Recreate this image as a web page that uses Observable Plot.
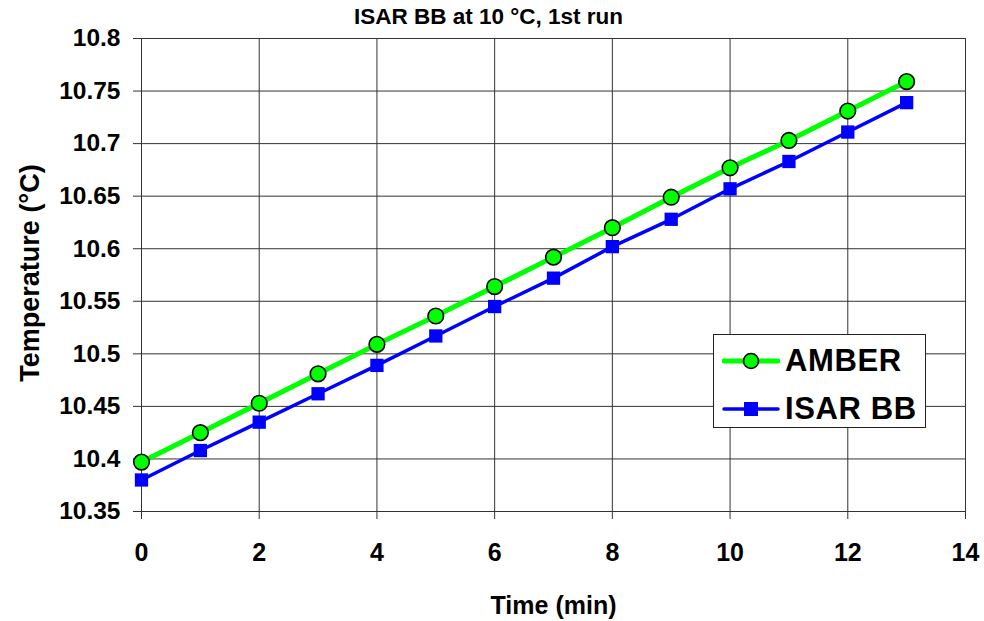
<!DOCTYPE html>
<html>
<head>
<meta charset="utf-8">
<script src="https://cdn.jsdelivr.net/npm/d3@7"></script>
<script src="https://cdn.jsdelivr.net/npm/@observablehq/plot@0.6"></script>
<style>
  html, body { margin: 0; padding: 0; background: #fff; }
  #wrap { position: relative; width: 984px; height: 621px; font-family: 'Liberation Sans', Arial, sans-serif; }
  #legend { position: absolute; left: 713px; top: 334px; width: 211px; height: 92px; border: 1.5px solid #222; background: #fff; }
  .row { position: absolute; left: 8px; height: 40px; display: flex; align-items: center; font-weight: bold; font-size: 31px; letter-spacing: 0.6px; }
  .row svg { margin-right: 5px; }
</style>
</head>
<body>
<div id="wrap"></div>
<script>
const times = [0, 1, 2, 3, 4, 5, 6, 7, 8, 9, 10, 11, 12, 13];
const amber = [10.397, 10.425, 10.453, 10.481, 10.509, 10.536, 10.564, 10.592, 10.620, 10.649, 10.677, 10.703, 10.731, 10.759];
const isarBB = [10.380, 10.408, 10.435, 10.462, 10.489, 10.517, 10.545, 10.572, 10.602, 10.628, 10.657, 10.683, 10.711, 10.739];
const xTicks = [0, 2, 4, 6, 8, 10, 12, 14];
const yTicks = [10.35, 10.4, 10.45, 10.5, 10.55, 10.6, 10.65, 10.7, 10.75, 10.8];
const yTickLabels = ["10.35", "10.4", "10.45", "10.5", "10.55", "10.6", "10.65", "10.7", "10.75", "10.8"];
const seriesNames = ["AMBER", "ISAR BB"];
const seriesColors = ["#00ff00", "#0000ff"];
const title = "ISAR BB at 10 °C, 1st run";
const xLabel = "Time (min)";
const yLabel = "Temperature (°C)";

const amberData = times.map((t, i) => ({t, v: amber[i]}));
const isarData = times.map((t, i) => ({t, v: isarBB[i]}));

const chart = Plot.plot({
  width: 984,
  height: 621,
  marginLeft: 141,
  marginRight: 19,
  marginTop: 38,
  marginBottom: 110,
  style: {fontFamily: "'Liberation Sans', Arial, sans-serif", fontWeight: "bold", color: "#000", background: "#fff", overflow: "visible"},
  x: {domain: [0, 14]},
  y: {domain: [10.35, 10.8]},
  marks: [
    Plot.gridX(xTicks, {stroke: "#333", strokeOpacity: 1, strokeWidth: 1}),
    Plot.gridY(yTicks, {stroke: "#333", strokeOpacity: 1, strokeWidth: 1}),
    Plot.axisX({ticks: xTicks, tickSize: 8, tickPadding: 24, fontSize: 25, fontWeight: "bold", label: null, stroke: "#333"}),
    Plot.axisY({ticks: yTicks, tickSize: 8, tickPadding: 13, fontSize: 24.5, fontWeight: "bold", label: null, stroke: "#333",
      tickFormat: d => yTickLabels[yTicks.findIndex(v => Math.abs(v - d) < 1e-9)]}),
    Plot.line(amberData, {x: "t", y: "v", stroke: seriesColors[0], strokeWidth: 5}),
    Plot.dot(amberData, {x: "t", y: "v", symbol: "circle", r: 7.8, fill: seriesColors[0], stroke: "#000", strokeWidth: 1.6}),
    Plot.line(isarData, {x: "t", y: "v", stroke: seriesColors[1], strokeWidth: 3.5}),
    Plot.dot(isarData, {x: "t", y: "v", symbol: "square", r: 7.5, fill: seriesColors[1], stroke: "none"}),
    Plot.text([title], {frameAnchor: "top", textAnchor: "middle", lineAnchor: "middle", dx: -65, dy: -22, fontSize: 22.5, fontWeight: "bold", text: d => d}),
    Plot.text([xLabel], {frameAnchor: "bottom", textAnchor: "middle", lineAnchor: "middle", dy: 94, fontSize: 25, fontWeight: "bold", text: d => d}),
    Plot.text([yLabel], {frameAnchor: "left", textAnchor: "middle", lineAnchor: "middle", dx: -111, dy: -2, rotate: -90, fontSize: 27, fontWeight: "bold", text: d => d})
  ]
});
const wrap = document.getElementById("wrap");
wrap.appendChild(chart);

const legend = document.createElement("div");
legend.id = "legend";
const rowTops = [6, 54];
seriesNames.forEach((name, i) => {
  const row = document.createElement("div");
  row.className = "row";
  row.style.top = rowTops[i] + "px";
  const sym = i === 0
    ? `<svg width="58" height="24"><line x1="2" y1="12" x2="56" y2="12" stroke="${seriesColors[0]}" stroke-width="5" stroke-linecap="round"/><circle cx="29" cy="12" r="7.5" fill="${seriesColors[0]}" stroke="#000" stroke-width="1.6"/></svg>`
    : `<svg width="58" height="24"><line x1="2" y1="12" x2="56" y2="12" stroke="${seriesColors[1]}" stroke-width="3.5" stroke-linecap="round"/><rect x="22" y="5" width="14" height="14" fill="${seriesColors[1]}"/></svg>`;
  row.innerHTML = sym + `<span>${name}</span>`;
  legend.appendChild(row);
});
wrap.appendChild(legend);
</script>
</body>
</html>
